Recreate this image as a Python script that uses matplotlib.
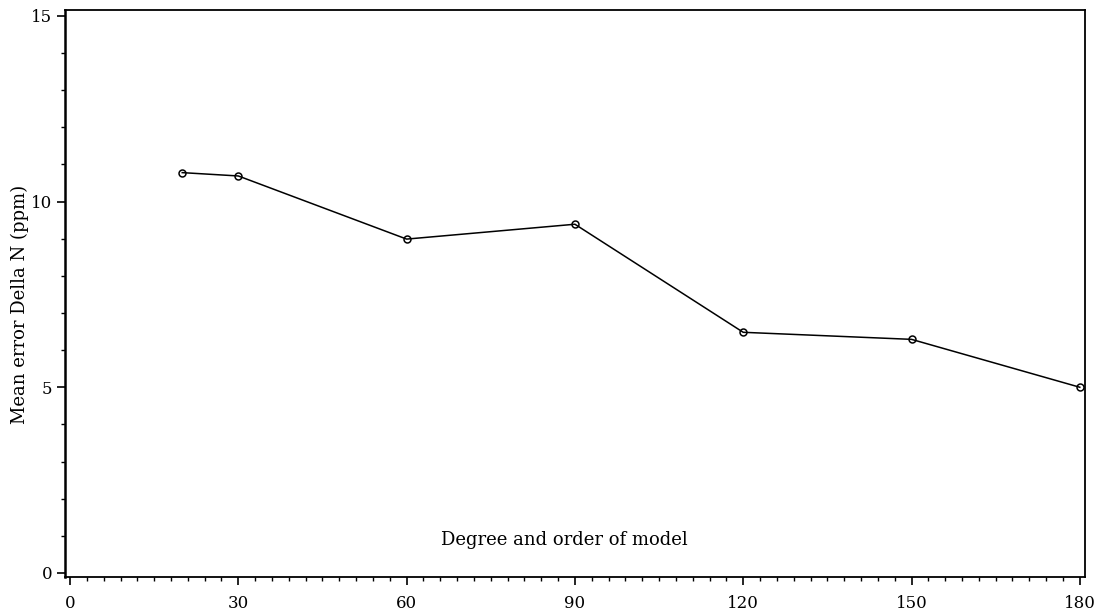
import numpy as np
import matplotlib.pyplot as plt
from matplotlib.ticker import MultipleLocator

plt.rcParams['font.family'] = ['DejaVu Serif']

# data
degree = [20, 30, 60, 90, 120, 150, 180]
mean_error = [10.78, 10.69, 8.99, 9.39, 6.48, 6.29, 5.00]

fig = plt.figure(figsize=(11.07, 6.16), dpi=100)
ax = fig.add_axes([0.0587, 0.0633, 0.9213, 0.9205])

ax.plot(degree, mean_error, 'k-', lw=1.1, marker='o', ms=5,
        mfc='none', mec='k', mew=1.1)

ax.set_xlim(-0.9, 180.9)
ax.set_ylim(-0.11, 15.16)
ax.xaxis.set_major_locator(MultipleLocator(30))
ax.xaxis.set_minor_locator(MultipleLocator(3))
ax.yaxis.set_major_locator(MultipleLocator(5))
ax.yaxis.set_minor_locator(MultipleLocator(1))
ax.tick_params(which='major', direction='out', length=6, width=1.2,
               labelsize=12, pad=7)
ax.tick_params(axis='y', which='major', pad=3)
ax.tick_params(which='minor', direction='out', length=3, width=1)

for side in ['left', 'bottom', 'right', 'top']:
    ax.spines[side].set_linewidth(1.3)
ax.spines['left'].set_linewidth(1.8)

fig.text(20 / 1107, 0.505, 'Mean error Della N (ppm)', rotation=90,
         ha='center', va='center', fontsize=13)
ax.text(0.49, 0.065, 'Degree and order of model', transform=ax.transAxes,
        ha='center', va='center', fontsize=13)

fig.savefig('out.png', dpi=100)
